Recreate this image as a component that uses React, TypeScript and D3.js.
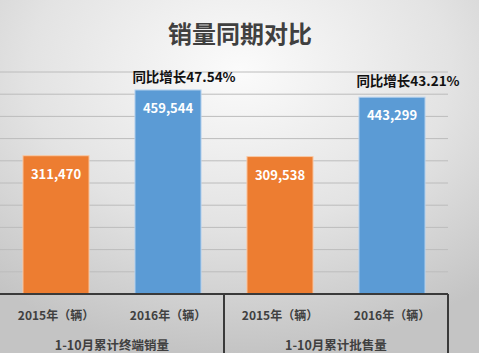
import React, { useEffect, useRef } from 'react';
import * as d3 from 'd3';

const categories = ['2015年（辆）', '2016年（辆）', '2015年（辆）', '2016年（辆）'];
const values = [311470, 459544, 309538, 443299];
const groups = ['1-10月累计终端销量', '1-10月累计批售量'];
const growth = ['同比增长47.54%', '同比增长43.21%'];
const yTicks = d3.range(0, 500001, 50000);

const width = 479;
const height = 353;
const margin = { top: 72, right: 31, bottom: 59, left: 0 };
const font = '"Noto Sans CJK SC", "Noto Sans", sans-serif';

const App = () => {
  const ref = useRef<SVGSVGElement>(null);

  useEffect(() => {
    document.body.style.margin = '0';
    const svg = d3.select(ref.current);
    svg.selectAll('*').remove();

    const defs = svg.append('defs');
    const grad = defs.append('radialGradient')
      .attr('id', 'bg')
      .attr('cx', '50%').attr('cy', '20%').attr('r', '80%');
    grad.append('stop').attr('offset', '0%').attr('stop-color', '#fbfbfb');
    grad.append('stop').attr('offset', '55%').attr('stop-color', '#e3e3e3');
    grad.append('stop').attr('offset', '100%').attr('stop-color', '#c4c4c4');

    svg.append('rect')
      .attr('width', width).attr('height', height)
      .attr('fill', 'url(#bg)');

    const x = d3.scaleBand<number>()
      .domain(d3.range(values.length))
      .range([margin.left, width - margin.right])
      .paddingInner(0.41)
      .paddingOuter(0.205);

    const y = d3.scaleLinear()
      .domain([0, 500000])
      .range([height - margin.bottom, margin.top]);

    // gridlines
    svg.append('g')
      .selectAll('line')
      .data(yTicks.slice(1))
      .enter()
      .append('line')
      .attr('x1', margin.left)
      .attr('x2', width - margin.right)
      .attr('y1', d => y(d))
      .attr('y2', d => y(d))
      .attr('stroke', '#bcbcbc')
      .attr('stroke-width', 1);

    const colors = ['#ED7D31', '#5B9BD5'];

    svg.append('g')
      .selectAll('rect')
      .data(values)
      .enter()
      .append('rect')
      .attr('x', (d, i) => x(i)!)
      .attr('y', d => y(d))
      .attr('width', x.bandwidth())
      .attr('height', d => y(0) - y(d))
      .attr('fill', (d, i) => colors[i % 2])
      .attr('stroke', (d, i) => (i % 2 === 0 ? '#f8c9a6' : '#b9d3ee'))
      .attr('stroke-width', 1);

    // value labels
    svg.append('g')
      .selectAll('text')
      .data(values)
      .enter()
      .append('text')
      .attr('x', (d, i) => x(i)! + x.bandwidth() / 2)
      .attr('y', d => y(d) + 23)
      .attr('text-anchor', 'middle')
      .attr('fill', '#ffffff')
      .attr('font-family', font)
      .attr('font-weight', 'bold')
      .attr('font-size', 13)
      .text(d => d3.format(',')(d));

    // growth annotations
    svg.append('g')
      .selectAll('text')
      .data(growth)
      .enter()
      .append('text')
      .attr('x', (d, i) => x(i * 2 + 1)! + x.bandwidth() / 2 + 16)
      .attr('y', (d, i) => y(values[i * 2 + 1]) - 8 - i * 3)
      .attr('text-anchor', 'middle')
      .attr('fill', '#111')
      .attr('font-family', font)
      .attr('font-weight', 'bold')
      .attr('font-size', 13.5)
      .text(d => d);

    // axis
    const base = y(0);
    const ax = svg.append('g').attr('stroke', '#3a3a3a').attr('stroke-width', 2);
    ax.append('line')
      .attr('x1', margin.left).attr('x2', width - margin.right)
      .attr('y1', base).attr('y2', base);
    [1, 2].forEach(k => {
      const xx = margin.left + (k * (width - margin.right - margin.left)) / 2;
      ax.append('line')
        .attr('x1', xx).attr('x2', xx)
        .attr('y1', base).attr('y2', height);
    });

    svg.append('g')
      .selectAll('text')
      .data(categories)
      .enter()
      .append('text')
      .attr('x', (d, i) => x(i)! + x.bandwidth() / 2)
      .attr('y', base + 26)
      .attr('text-anchor', 'middle')
      .attr('fill', '#404040')
      .attr('font-family', font)
      .attr('font-weight', 'bold')
      .attr('font-size', 12)
      .text(d => d);

    const gw = (width - margin.right - margin.left) / 2;
    svg.append('g')
      .selectAll('text')
      .data(groups)
      .enter()
      .append('text')
      .attr('x', (d, i) => margin.left + gw * i + gw / 2)
      .attr('y', base + 56)
      .attr('text-anchor', 'middle')
      .attr('fill', '#404040')
      .attr('font-family', font)
      .attr('font-weight', 'bold')
      .attr('font-size', 12.5)
      .text(d => d);

    svg.append('text')
      .attr('x', 240)
      .attr('y', 43)
      .attr('text-anchor', 'middle')
      .attr('fill', '#404040')
      .attr('font-family', font)
      .attr('font-weight', 'bold')
      .attr('font-size', 24)
      .text('销量同期对比');
  });

  return (
    <svg
      ref={ref}
      width={width}
      height={height}
      viewBox={`0 0 ${width} ${height}`}
      style={{ display: 'block' }}
    />
  );
};

export default App;
